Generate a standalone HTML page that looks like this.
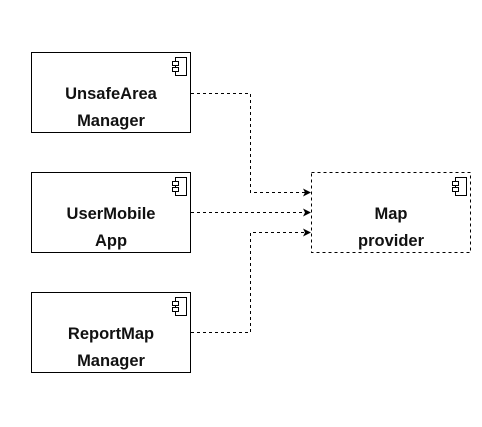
<!DOCTYPE html>
<html><head><style>
body{margin:0;background:#fff;}
</style></head><body>
<svg width="482" height="422" xmlns="http://www.w3.org/2000/svg" font-family="Liberation Sans, sans-serif">
<defs>
<g id="ic">
<rect x="0" y="0" width="11" height="18" fill="#fff" stroke="#000" stroke-width="1"/>
<rect x="-3" y="4" width="6" height="4" fill="#fff" stroke="#000" stroke-width="1"/>
<rect x="-3" y="10" width="6" height="4" fill="#fff" stroke="#000" stroke-width="1"/>
</g>
<marker id="a" markerWidth="8" markerHeight="8" refX="7" refY="4" orient="auto" markerUnits="userSpaceOnUse"><path d="M0,0 L8,4 L0,8 L2,4 z" fill="#000"/></marker>
</defs>
<g font-size="16.5" font-weight="bold" fill="#111" text-anchor="middle">
<rect x="31.5" y="52.5" width="159" height="80" fill="#fff" stroke="#000"/>
<use href="#ic" x="175.5" y="57.5"/>
<text x="111" y="99">UnsafeArea</text>
<text x="111" y="126">Manager</text>
<rect x="31.5" y="172.5" width="159" height="80" fill="#fff" stroke="#000"/>
<use href="#ic" x="175.5" y="177.5"/>
<text x="111" y="219">UserMobile</text>
<text x="111" y="246">App</text>
<rect x="31.5" y="292.5" width="159" height="80" fill="#fff" stroke="#000"/>
<use href="#ic" x="175.5" y="297.5"/>
<text x="111" y="339">ReportMap</text>
<text x="111" y="366">Manager</text>
<rect x="311.5" y="172.5" width="159" height="80" fill="#fff" stroke="#000" stroke-dasharray="3,3"/>
<use href="#ic" x="455.5" y="177.5"/>
<text x="391" y="219">Map</text>
<text x="391" y="246">provider</text>
</g>
<g fill="none" stroke="#000" stroke-dasharray="3,3">
<path d="M191,93.5 H250.5 V192.5 H310" marker-end="url(#a)"/>
<path d="M191,212.5 H310" marker-end="url(#a)"/>
<path d="M191,332.5 H250.5 V232.5 H310" marker-end="url(#a)"/>
</g>
</svg>
</body></html>
